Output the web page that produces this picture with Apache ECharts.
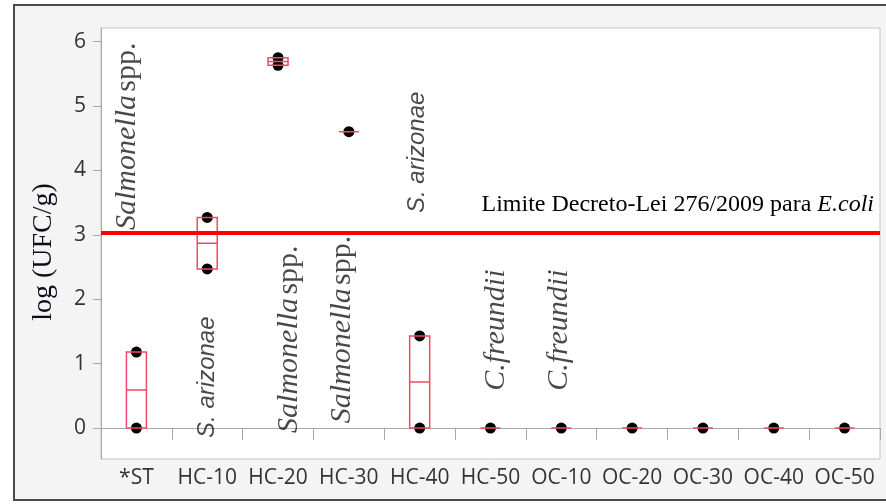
<!DOCTYPE html>
<html>
<head>
<meta charset="utf-8">
<script src="https://cdn.jsdelivr.net/npm/echarts@6/dist/echarts.min.js"></script>
<style>
  html, body { margin: 0; padding: 0; background: #ffffff; }
  #chart { width: 886px; height: 504px; }
</style>
</head>
<body>
<div id="chart"></div>
<script>
// Sample groups along the x axis
const categories = ['*ST', 'HC-10', 'HC-20', 'HC-30', 'HC-40', 'HC-50', 'OC-10', 'OC-20', 'OC-30', 'OC-40', 'OC-50'];

// Individual log (UFC/g) counts for each sample group
const observations = [
  [0, 1.18],
  [2.47, 3.27],
  [5.63, 5.75],
  [4.6],
  [0, 1.43],
  [0],
  [0],
  [0],
  [0],
  [0],
  [0]
];

// Y axis tick labels
const yTicks = [0, 1, 2, 3, 4, 5, 6];

// Legal limit for E. coli
const limitValue = 3.03;

// Organism identified in each group, with the value at which its name sits
const annotationCategories = ['*ST', 'HC-10', 'HC-20', 'HC-30', 'HC-40', 'HC-50', 'OC-10'];
const annotationValues = [4.53, 0.79, 1.38, 1.53, 4.28, 1.52, 1.52];
const annotationOrganisms = ['Salmonella spp.', 'S. arizonae', 'Salmonella spp.', 'Salmonella spp.', 'S. arizonae', 'C.freundii', 'C.freundii'];

// ---- derived series data ----
const pointData = [];
observations.forEach((vals, i) => vals.forEach(v => pointData.push([i, v])));

const boxData = observations.map(vals => {
  const s = vals.slice().sort((a, b) => a - b);
  const n = s.length;
  const med = n % 2 ? s[(n - 1) / 2] : (s[n / 2 - 1] + s[n / 2]) / 2;
  return [s[0], s[0], med, s[n - 1], s[n - 1]];
});

const serifFont = "'Liberation Serif', 'Times New Roman', serif";
const uiFont = "'Open Sans', 'Noto Sans', sans-serif";
const sansFont = "'Liberation Sans', Arial, sans-serif";

// horizontal shift (px) of each organism name from its group centre;
// labels are rotated 90deg, so the screen x shift goes in the label's local y
const annotationShift = [-9, 0, 11, -7, -2, 6, -2];

function organismLabel(name) {
  if (name === 'Salmonella spp.') return '{it|Salmonella} {up|spp.}';
  if (name === 'S. arizonae') return '{sans|S. arizonae}';
  return '{it|' + name + '}';
}

const annotationData = annotationCategories.map((c, i) => ({
  value: [categories.indexOf(c), annotationValues[i]],
  name: annotationOrganisms[i],
  label: { offset: [0, annotationShift[i]] }
}));

const chart = echarts.init(document.getElementById('chart'), null, { renderer: 'canvas' });

chart.setOption({
  animation: false,
  backgroundColor: '#ffffff',
  graphic: [{
    type: 'rect',
    z: -10,
    silent: true,
    shape: { x: 14, y: 5, width: 880, height: 495 },
    style: { fill: '#f4f4f4', stroke: '#4a4a4a', lineWidth: 2 }
  }, {
    type: 'text',
    z: 5,
    silent: true,
    left: 30,
    top: 'middle',
    rotation: Math.PI / 2,
    style: {
      text: 'log (UFC/g)',
      font: "28px " + serifFont,
      fill: '#0d0d1a'
    }
  }],
  grid: {
    left: 101,
    right: 6,
    top: 28,
    bottom: 45,
    show: true,
    backgroundColor: '#ffffff',
    borderColor: '#c4c4c4',
    borderWidth: 1
  },
  xAxis: {
    type: 'category',
    data: categories,
    boundaryGap: true,
    axisLine: { show: true, lineStyle: { color: '#a8a8a8', width: 1 } },
    axisTick: { show: true, length: 12, lineStyle: { color: '#a8a8a8' } },
    axisLabel: {
      margin: 9,
      fontSize: 21,
      fontFamily: uiFont,
      color: '#333333',
      interval: 0
    },
    splitLine: { show: false }
  },
  yAxis: {
    type: 'value',
    min: -0.48,
    max: 6.21,
    axisLine: { show: true, lineStyle: { color: '#a8a8a8', width: 1 } },
    axisTick: { show: true, length: 8, customValues: yTicks, lineStyle: { color: '#a8a8a8' } },
    axisLabel: {
      customValues: yTicks,
      margin: 15,
      fontSize: 21,
      fontFamily: uiFont,
      color: '#333333'
    },
    splitLine: { show: false }
  },
  series: [{
    type: 'scatter',
    name: 'counts',
    z: 3,
    data: pointData,
    symbol: 'circle',
    symbolSize: 11,
    itemStyle: { color: '#000000', opacity: 1 },
    silent: true,
    markLine: {
      silent: true,
      symbol: ['none', 'none'],
      lineStyle: { color: '#ff0000', width: 4, type: 'solid' },
      label: {
        show: true,
        position: 'insideEndTop',
        distance: [6, 16],
        formatter: 'Limite Decreto-Lei 276/2009 para {it|E.coli}',
        fontFamily: serifFont,
        fontSize: 24,
        color: '#000000',
        rich: {
          it: { fontFamily: serifFont, fontSize: 24, fontStyle: 'italic', color: '#000000' }
        }
      },
      emphasis: { disabled: true },
      data: [{ yAxis: limitValue }]
    }
  }, {
    type: 'boxplot',
    name: 'box',
    z: 4,
    data: boxData,
    boxWidth: [20, 20],
    silent: true,
    itemStyle: { color: 'rgba(255,255,255,0)', borderColor: '#f24a66', borderWidth: 1.5 }
  }, {
    type: 'scatter',
    name: 'organisms',
    z: 6,
    data: annotationData,
    symbolSize: 0,
    silent: true,
    label: {
      show: true,
      position: 'inside',
      rotate: 90,
      align: 'center',
      verticalAlign: 'middle',
      formatter: p => organismLabel(p.name),
      rich: {
        it: { fontFamily: serifFont, fontSize: 30, fontStyle: 'italic', color: '#1a1a1a' },
        up: { fontFamily: serifFont, fontSize: 30, color: '#1a1a1a' },
        sans: { fontFamily: sansFont, fontSize: 24, fontStyle: 'italic', color: '#1a1a1a' }
      }
    }
  }]
});
</script>
</body>
</html>
